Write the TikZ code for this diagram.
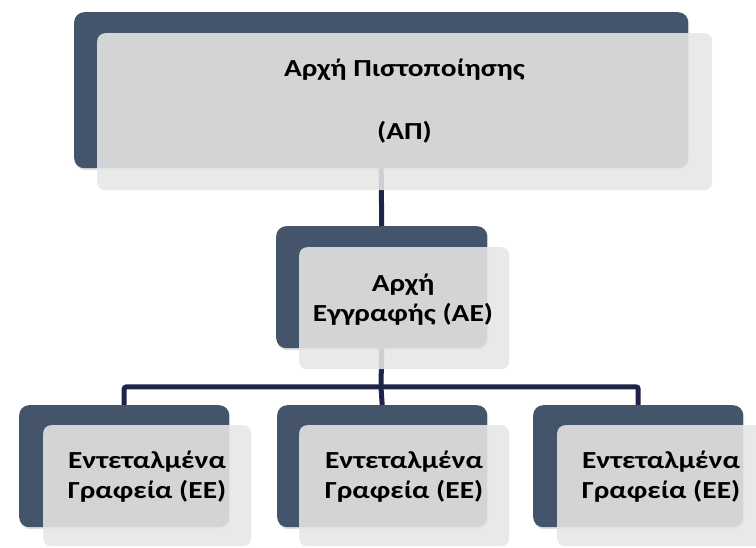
\documentclass[tikz,border=0pt]{standalone}
\usepackage{fontspec}
\setmainfont{Carlito}[FakeStretch=1.2]
\usetikzlibrary{shadows}
\definecolor{darkbox}{HTML}{44546A}
\definecolor{lightbox}{HTML}{E6E6E6}
\definecolor{linknavy}{HTML}{1E2349}
\begin{document}
\begin{tikzpicture}[x=1pt,y=-1pt,
  backbox/.style={fill=darkbox, rounded corners=10pt, inner sep=0pt, anchor=north west,
    drop shadow={opacity=0.25, shadow xshift=1pt, shadow yshift=-2pt}},
  frontbox/.style={fill=lightbox, fill opacity=0.88, rounded corners=8pt, inner sep=0pt, anchor=north west},
  label/.style={anchor=base, align=center, inner sep=0pt, text=black,
    font=\bfseries\fontsize{24.5}{30}\selectfont},
  link/.style={draw=linknavy, line width=5pt, rounded corners=2pt}]
\useasboundingbox (0,0) rectangle (756,548);
% back boxes
\node[backbox, minimum width=614pt, minimum height=156pt] (apB) at (74,12) {};
\node[backbox, minimum width=211pt, minimum height=122pt] (aeB) at (276,226) {};
\node[backbox, minimum width=210pt, minimum height=122pt] (ee1B) at (19,405) {};
\node[backbox, minimum width=210pt, minimum height=122pt] (ee2B) at (277,405) {};
\node[backbox, minimum width=210pt, minimum height=122pt] (ee3B) at (533,405) {};
% connectors
\coordinate (hub) at (381,387);
\draw[link] (apB.south) -- (aeB.north);
\draw[link] (aeB.south) -- (hub);
\draw[link] (hub) -| (ee1B.north);
\draw[link] (hub) -- (ee2B.north);
\draw[link] (hub) -| (ee3B.north);
% front boxes
\node[frontbox, minimum width=615pt, minimum height=157pt] (apF) at (97,33) {};
\node[frontbox, minimum width=210pt, minimum height=122pt] (aeF) at (299,247) {};
\node[frontbox, minimum width=208pt, minimum height=121pt] (ee1F) at (43,425) {};
\node[frontbox, minimum width=210pt, minimum height=121pt] (ee2F) at (299,425) {};
\node[frontbox, minimum width=208pt, minimum height=121pt] (ee3F) at (557,425) {};
% texts
\node[label] (apT) at (404.5,140) {Αρχή Πιστοποίησης\\[33pt](ΑΠ)};
\node[label] (aeT) at (403,322) {Αρχή\\Εγγραφής (ΑΕ)};
\node[label] (ee1T) at (147,498) {Εντεταλμένα\\Γραφεία (ΕΕ)};
\node[label] (ee2T) at (404,498) {Εντεταλμένα\\Γραφεία (ΕΕ)};
\node[label] (ee3T) at (661,498) {Εντεταλμένα\\Γραφεία (ΕΕ)};
\end{tikzpicture}
\end{document}
